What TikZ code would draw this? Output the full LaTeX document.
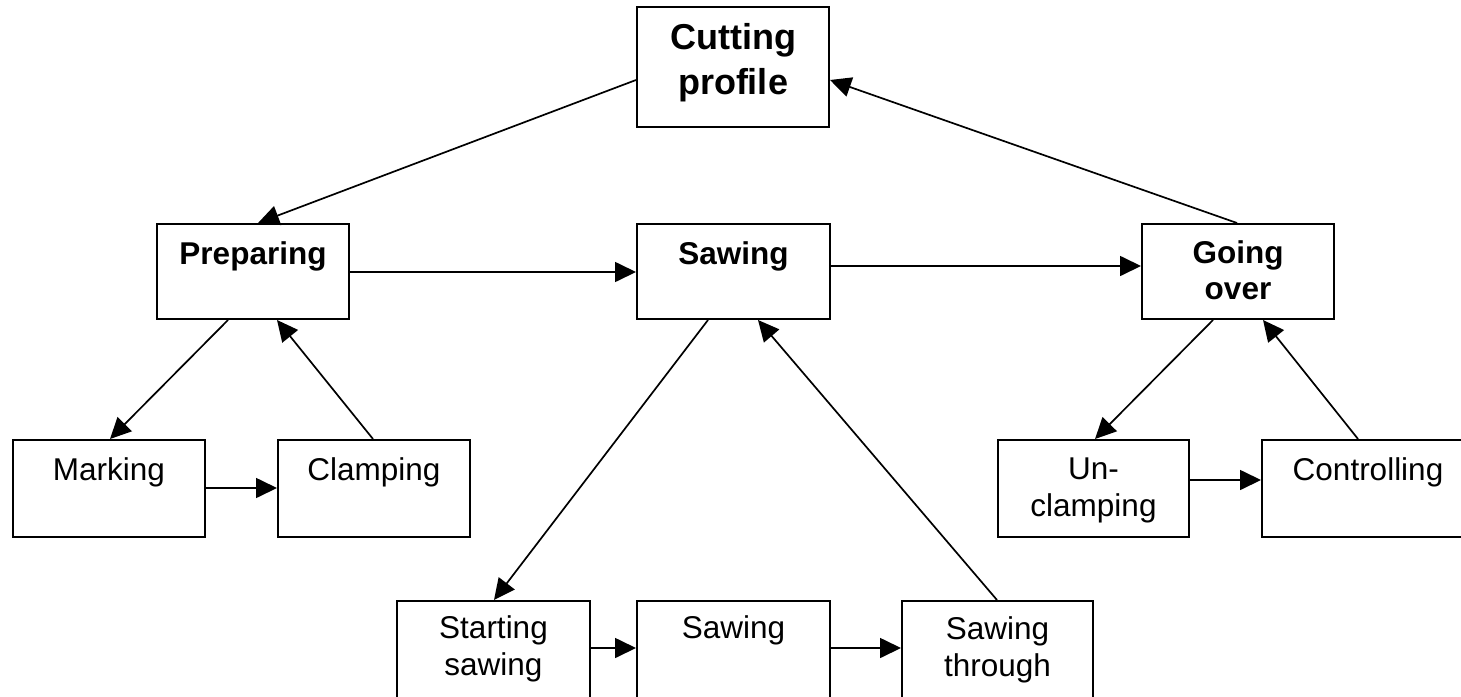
\documentclass[tikz,border=0pt]{standalone}
\usepackage{fontspec}
\setmainfont{Liberation Sans}
\usetikzlibrary{arrows.meta,calc}
\newcommand{\firstline}{\rule{0pt}{24pt}}
\newcommand{\firstlinebig}{\rule{0pt}{27pt}}
\begin{document}
\begin{tikzpicture}[x=1pt,y=-1pt,
  box/.style={draw,line width=2pt,minimum width=192pt,inner sep=0pt},
  txt/.style={anchor=north,inner sep=0pt,align=center,
    font=\fontsize{31.5}{37.5}\selectfont},
  btxt/.style={txt,font=\fontsize{31.5}{36}\selectfont\bfseries},
  link/.style={line width=1.7pt,-{Triangle[length=21pt,width=20pt]}}]
\useasboundingbox (0,0) rectangle (1461,696);
\clip (0,0) rectangle (1461,696);

% top level
\node[box,minimum height=120pt] (cut) at (733,67) {};
\node[txt,font=\fontsize{36}{45}\selectfont\bfseries] (tcut) at ($(cut.north)+(0,16)$) {\firstlinebig Cutting\\profile};

% phases
\node[box,minimum height=95pt] (prep) at (253,271.5) {};
\node[box,minimum height=95pt,minimum width=193pt] (saw) at (733.5,271.5) {};
\node[box,minimum height=95pt] (go) at (1238,271.5) {};
\node[btxt] (tprep) at ($(prep.north)+(0,17)$) {\firstline Preparing};
\node[btxt] (tsaw) at ($(saw.north)+(0,17)$) {\firstline Sawing};
\node[btxt] (tgo) at ($(go.north)+(0,16)$) {\firstline Going\\over};

% sub-steps of preparing and going over
\node[box,minimum height=97pt] (mark) at (109,488.5) {};
\node[box,minimum height=97pt] (clamp) at (374,488.5) {};
\node[box,minimum height=97pt,minimum width=191pt] (unc) at (1093.5,488.5) {};
\node[box,minimum height=97pt,minimum width=212pt] (ctrl) at (1368,488.5) {};
\node[txt] (tmark) at ($(mark.north)+(0,17)$) {\firstline Marking};
\node[txt] (tclamp) at ($(clamp.north)+(0,17)$) {\firstline Clamping};
\node[txt] (tunc) at ($(unc.north)+(0,16)$) {\firstline Un-\\clamping};
\node[txt] (tctrl) at ($(ctrl.north)+(0,17)$) {\firstline Controlling};

% sub-steps of sawing
\node[box,minimum height=100pt,minimum width=193pt] (start) at (493.5,651) {};
\node[box,minimum height=100pt,minimum width=193pt] (sawb) at (733.5,651) {};
\node[box,minimum height=100pt,minimum width=191pt] (thru) at (997.5,651) {};
\node[txt] (tstart) at ($(start.north)+(0,14)$) {\firstline Starting\\sawing};
\node[txt] (tsawb) at ($(sawb.north)+(0,14)$) {\firstline Sawing};
\node[txt] (tthru) at ($(thru.north)+(0,15)$) {\firstline Sawing\\through};

% connectors
\draw[link] ($(cut.west)+(0,13)$) -- ($(prep.north)+(5,0)$);
\draw[link] ($(go.north)+(-1,0)$) -- ($(cut.east)+(0,13)$);
\draw[link] ($(prep.east)+(0,0.5)$) -- ($(saw.west)+(0,0.5)$);
\draw[link] ($(saw.east)+(0,-5.5)$) -- ($(go.west)+(0,-5.5)$);
\draw[link] ($(prep.south)+(-25,0)$) -- ($(mark.north)+(1,0)$);
\draw[link] ($(clamp.north)+(-1,0)$) -- ($(prep.south)+(24,0)$);
\draw[link] ($(mark.east)+(0,-0.5)$) -- ($(clamp.west)+(0,-0.5)$);
\draw[link] ($(saw.south)+(-25.5,0)$) -- ($(start.north)+(0.5,0)$);
\draw[link] ($(thru.north)+(-0.5,0)$) -- ($(saw.south)+(24.5,0)$);
\draw[link] ($(start.east)+(0,-3)$) -- ($(sawb.west)+(0,-3)$);
\draw[link] ($(sawb.east)+(0,-3)$) -- ($(thru.west)+(0,-3)$);
\draw[link] ($(go.south)+(-25,0)$) -- ($(unc.north)+(1.5,0)$);
\draw[link] ($(ctrl.north)+(-10,0)$) -- ($(go.south)+(25,0)$);
\draw[link] ($(unc.east)+(0,-8.5)$) -- ($(ctrl.west)+(0,-8.5)$);
\end{tikzpicture}
\end{document}
